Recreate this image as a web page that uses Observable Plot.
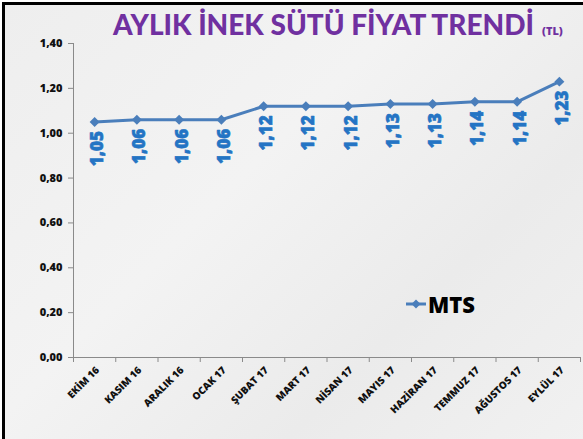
<!DOCTYPE html>
<html>
<head>
<meta charset="utf-8">
<script src="https://cdn.jsdelivr.net/npm/d3@7"></script>
<script src="https://cdn.jsdelivr.net/npm/@observablehq/plot@0.6"></script>
<style>
  html, body { margin: 0; padding: 0; background: #ffffff; }
  #frame {
    position: absolute; left: 2px; top: 2px; width: 583px; height: 439px;
    border-left: 3px solid #000; border-top: 3px solid #000;
    background: linear-gradient(135deg, #eeeeee 0%, #f3f3f3 40%, #ebebeb 70%, #f1f1f1 100%);
    overflow: hidden;
  }
  #chart { position: absolute; left: 0; top: 0; }
  #title {
    position: absolute; left: 113px; top: 7px; white-space: nowrap;
    font-family: Lato, sans-serif; font-weight: 900; font-size: 28px; color: #7030A0;
  }
  #title .unit { font-family: "Open Sans", sans-serif; font-size: 11px; font-weight: 800; margin-left: 8px; }
  #legend {
    position: absolute; left: 405px; top: 289px; white-space: nowrap;
    font-family: "Open Sans", sans-serif; font-weight: 800; font-size: 22px; color: #000;
    display: flex; align-items: center;
  }
</style>
</head>
<body>
<div id="frame"></div>
<div id="chart"></div>
<div id="title"></div>
<div id="legend"></div>
<script>
const months = ["EKİM 16", "KASIM 16", "ARALIK 16", "OCAK 17", "ŞUBAT 17", "MART 17",
                "NİSAN 17", "MAYIS 17", "HAZİRAN 17", "TEMMUZ 17", "AĞUSTOS 17", "EYLÜL 17"];
const prices = [1.05, 1.06, 1.06, 1.06, 1.12, 1.12, 1.12, 1.13, 1.13, 1.14, 1.14, 1.23];
const yTicks = [0, 0.2, 0.4, 0.6, 0.8, 1.0, 1.2, 1.4];
const titleText = "AYLIK İNEK SÜTÜ FİYAT TRENDİ";
const unitText = "(TL)";
const seriesName = "MTS";

const lineColor = "#4A7EBB";
const labelColor = "#2474C4";
const fmt = d => d.toFixed(2).replace(".", ",");
const data = months.map((m, i) => ({i, m, v: prices[i]}));
const xc = d => d.i + 0.5;

const chart = Plot.plot({
  width: 583, height: 439,
  marginLeft: 73, marginRight: 3, marginTop: 43, marginBottom: 82,
  x: {domain: [0, months.length], axis: null},
  y: {domain: [0, 1.4], axis: null},
  style: {background: "transparent", fontFamily: "'Open Sans', sans-serif", overflow: "visible"},
  marks: [
    Plot.axisY({ticks: yTicks, tickFormat: fmt, tickSize: 5, tickPadding: 6,
                stroke: "#8a8a8a", fill: "#111", fontWeight: 800, fontSize: 11, label: null}),
    Plot.axisX({ticks: d3.range(months.length + 1), tickFormat: () => "", tickSize: 5,
                stroke: "#8a8a8a", label: null}),
    Plot.ruleX([0], {stroke: "#8a8a8a"}),
    Plot.ruleY([0], {stroke: "#8a8a8a"}),
    Plot.text(data, {x: xc, y: () => 0, text: "m", rotate: -45, textAnchor: "end",
                     dx: 3, dy: 11, fontWeight: 800, fontSize: 10, fill: "#111"}),
    Plot.line(data, {x: xc, y: "v", stroke: lineColor, strokeWidth: 3}),
    Plot.dot(data, {x: xc, y: "v", symbol: "diamond2", r: 4.5, fill: lineColor, stroke: null}),
    Plot.text(data, {x: xc, y: "v", text: d => fmt(d.v), rotate: -90, textAnchor: "end",
                     dx: 3, dy: 9, fill: labelColor, stroke: labelColor, strokeWidth: 0.6,
                     fontWeight: 800, fontSize: 17})
  ]
});
document.getElementById("chart").appendChild(chart);

const t = document.getElementById("title");
t.textContent = titleText;
const u = document.createElement("span");
u.className = "unit";
u.textContent = unitText;
t.appendChild(u);

const lg = document.getElementById("legend");
lg.innerHTML = `<svg width="22" height="12" style="margin-right:1px"><line x1="1" y1="6" x2="21" y2="6" stroke="${lineColor}" stroke-width="3"/><path d="M11,1.5 L15.5,6 L11,10.5 L6.5,6 Z" fill="${lineColor}"/></svg>`;
const s = document.createElement("span");
s.textContent = seriesName;
lg.appendChild(s);
</script>
</body>
</html>
